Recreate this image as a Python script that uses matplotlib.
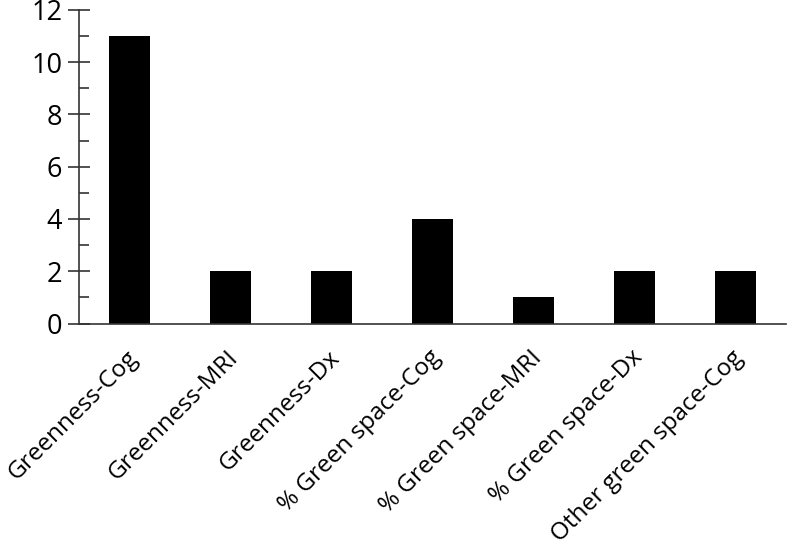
import matplotlib
matplotlib.use('Agg')
import matplotlib.pyplot as plt
import matplotlib.transforms as mtransforms
from matplotlib.ticker import MultipleLocator

# 数据
categories = ['Greenness-Cog', 'Greenness-MRI', 'Greenness-Dx',
              '% Green space-Cog', '% Green space-MRI', '% Green space-Dx',
              'Other green space-Cog']
counts = [11, 2, 2, 4, 1, 2, 2]
y_ticks = [0, 2, 4, 6, 8, 10, 12]

plt.rcParams['font.family'] = ['Open Sans', 'DejaVu Sans']

fig = plt.figure(figsize=(7.87, 5.53), dpi=100)
ax = fig.add_axes([0.1004, 0.415, 0.8986, 0.567])

x = list(range(len(categories)))
ax.bar(x, counts, width=0.4, color='black')

ax.set_xlim(-0.5, len(categories) - 0.5)
ax.set_ylim(0, 12)
ax.set_yticks(y_ticks)
ax.yaxis.set_minor_locator(MultipleLocator(1))
ax.tick_params(axis='y', which='major', direction='inout', length=16, width=1.2,
               labelsize=19.5, pad=4, color='#333333')
ax.tick_params(axis='y', which='minor', direction='in', length=7, width=1.2,
               color='#333333')

ax.set_xticks(x)
ax.set_xticklabels(categories, rotation=45, ha='right', rotation_mode='anchor',
                   fontsize=17.5)
ax.tick_params(axis='x', length=0, pad=16)
# 标签整体左移一点
shift = mtransforms.ScaledTranslation(-3 / 72, 0, fig.dpi_scale_trans)
for lbl in ax.get_xticklabels():
    lbl.set_transform(lbl.get_transform() + shift)

for side in ['top', 'right']:
    ax.spines[side].set_visible(False)
for side in ['left', 'bottom']:
    ax.spines[side].set_linewidth(1.2)
    ax.spines[side].set_color('#333333')

plt.savefig('out.png', dpi=100)
plt.close()
